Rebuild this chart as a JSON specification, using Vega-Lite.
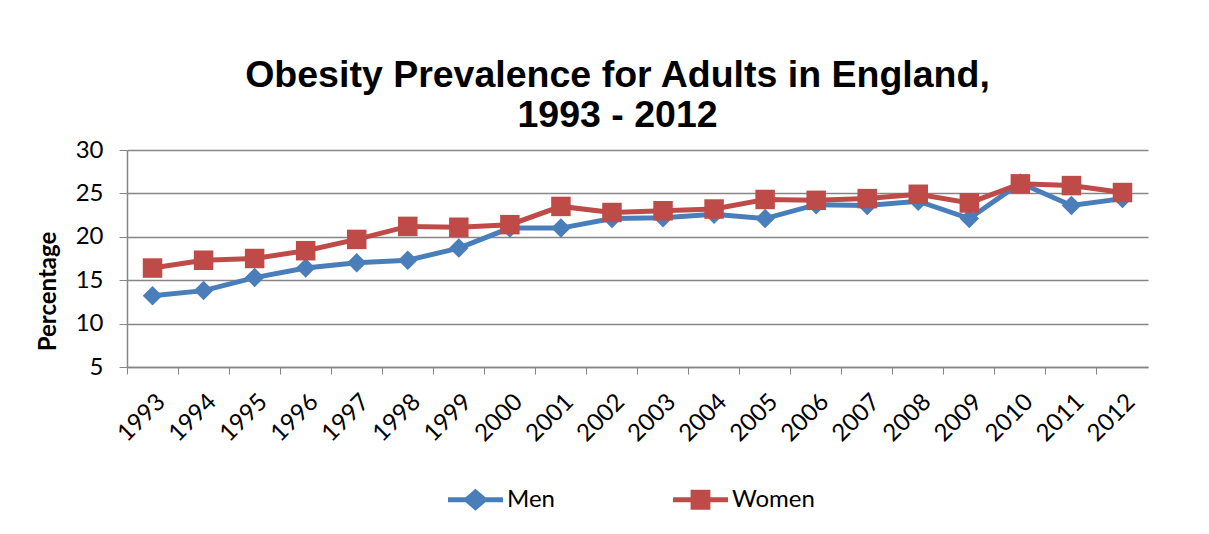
{
  "$schema": "https://vega.github.io/schema/vega-lite/v6.json",
  "width": 1021,
  "height": 217,
  "autosize": {"type": "none"},
  "padding": {"left": 127, "top": 150, "right": 61, "bottom": 167},
  "background": "white",
  "title": {
    "text": ["Obesity Prevalence for Adults in England,", "1993 - 2012"],
    "font": "Liberation Sans",
    "fontSize": 37.5,
    "fontWeight": "bold",
    "color": "black",
    "lineHeight": 40,
    "anchor": "middle",
    "dx": -20,
    "offset": 4
  },
  "data": {
    "values": [
      {"year": "1993", "sex": "Men", "value": 13.2},
      {"year": "1994", "sex": "Men", "value": 13.8},
      {"year": "1995", "sex": "Men", "value": 15.3},
      {"year": "1996", "sex": "Men", "value": 16.4},
      {"year": "1997", "sex": "Men", "value": 17.0},
      {"year": "1998", "sex": "Men", "value": 17.3},
      {"year": "1999", "sex": "Men", "value": 18.7},
      {"year": "2000", "sex": "Men", "value": 21.0},
      {"year": "2001", "sex": "Men", "value": 21.0},
      {"year": "2002", "sex": "Men", "value": 22.1},
      {"year": "2003", "sex": "Men", "value": 22.2},
      {"year": "2004", "sex": "Men", "value": 22.6},
      {"year": "2005", "sex": "Men", "value": 22.1},
      {"year": "2006", "sex": "Men", "value": 23.7},
      {"year": "2007", "sex": "Men", "value": 23.6},
      {"year": "2008", "sex": "Men", "value": 24.1},
      {"year": "2009", "sex": "Men", "value": 22.1},
      {"year": "2010", "sex": "Men", "value": 26.2},
      {"year": "2011", "sex": "Men", "value": 23.6},
      {"year": "2012", "sex": "Men", "value": 24.4},
      {"year": "1993", "sex": "Women", "value": 16.4},
      {"year": "1994", "sex": "Women", "value": 17.3},
      {"year": "1995", "sex": "Women", "value": 17.5},
      {"year": "1996", "sex": "Women", "value": 18.4},
      {"year": "1997", "sex": "Women", "value": 19.7},
      {"year": "1998", "sex": "Women", "value": 21.2},
      {"year": "1999", "sex": "Women", "value": 21.1},
      {"year": "2000", "sex": "Women", "value": 21.4},
      {"year": "2001", "sex": "Women", "value": 23.5},
      {"year": "2002", "sex": "Women", "value": 22.8},
      {"year": "2003", "sex": "Women", "value": 23.0},
      {"year": "2004", "sex": "Women", "value": 23.2},
      {"year": "2005", "sex": "Women", "value": 24.3},
      {"year": "2006", "sex": "Women", "value": 24.2},
      {"year": "2007", "sex": "Women", "value": 24.4},
      {"year": "2008", "sex": "Women", "value": 24.9},
      {"year": "2009", "sex": "Women", "value": 23.9},
      {"year": "2010", "sex": "Women", "value": 26.1},
      {"year": "2011", "sex": "Women", "value": 25.9},
      {"year": "2012", "sex": "Women", "value": 25.1}
    ]
  },
  "encoding": {
    "x": {
      "field": "year",
      "type": "ordinal",
      "scale": {"type": "band", "paddingInner": 0, "paddingOuter": 0},
      "axis": {
        "title": null,
        "labelAngle": -45,
        "labelFont": "Lato",
        "labelFontSize": 24,
        "labelColor": "black",
        "labelAlign": "right",
        "labelBaseline": "middle",
        "labelPadding": 24,
        "labelOffset": 9,
        "bandPosition": 0,
        "tickColor": "#868686",
        "tickSize": 7,
        "domainColor": "#868686",
        "domainWidth": 1.5,
        "grid": false
      }
    },
    "y": {
      "field": "value",
      "type": "quantitative",
      "scale": {"domain": [5, 30], "nice": false, "zero": false},
      "axis": {
        "title": "Percentage",
        "titleFont": "Lato",
        "titleFontSize": 24,
        "titleFontWeight": "bold",
        "titleColor": "black",
        "titleY": 141,
        "titleX": -79,
        "titleAlign": "center",
        "titleBaseline": "middle",
        "values": [5, 10, 15, 20, 25, 30],
        "labelFont": "Lato",
        "labelFontSize": 24,
        "labelColor": "black",
        "labelPadding": 16,
        "tickColor": "#868686",
        "tickSize": 8,
        "domainColor": "#868686",
        "domainWidth": 1.5,
        "gridColor": "#868686",
        "gridWidth": 1.3
      }
    },
    "color": {
      "field": "sex",
      "type": "nominal",
      "scale": {"domain": ["Men", "Women"], "range": ["#4a7ebb", "#be4b48"]},
      "legend": {
        "title": null,
        "orient": "none",
        "direction": "horizontal",
        "legendX": 321,
        "legendY": 322,
        "labelFont": "Lato",
        "labelFontSize": 24,
        "labelColor": "black",
        "labelOffset": 4,
        "symbolSize": 3025,
        "symbolStrokeWidth": 0,
        "columnPadding": 118,
        "encode": {
          "symbols": {
            "update": {
              "shape": {"signal": "datum.value === 'Men' ? 'M-1,-0.09 L-0.36,-0.09 L0,-0.4 L0.36,-0.09 L1,-0.09 L1,0.09 L0.36,0.09 L0,0.4 L-0.36,0.09 L-1,0.09 Z' : 'M-1,-0.09 L-0.36,-0.09 L-0.36,-0.36 L0.36,-0.36 L0.36,-0.09 L1,-0.09 L1,0.09 L0.36,0.09 L0.36,0.36 L-0.36,0.36 L-0.36,0.09 L-1,0.09 Z'"},
              "strokeWidth": {"value": 0}
            }
          }
        }
      }
    }
  },
  "layer": [
    {
      "mark": {"type": "line", "strokeWidth": 5}
    },
    {
      "mark": {"type": "point", "filled": true, "opacity": 1, "size": 380},
      "encoding": {
        "shape": {
          "condition": {"test": "datum.sex === 'Men'", "value": "diamond"},
          "value": "square"
        }
      }
    }
  ],
  "config": {
    "view": {"stroke": null}
  }
}
